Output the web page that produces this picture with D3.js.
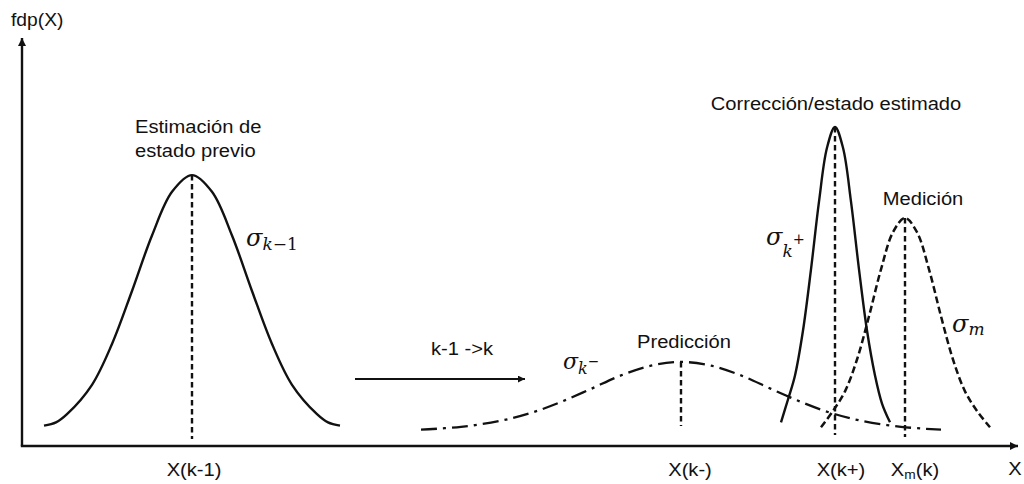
<!DOCTYPE html>
<html>
<head>
<meta charset="utf-8">
<script src="https://cdn.jsdelivr.net/npm/d3@7"></script>
<style>
  html, body { margin: 0; padding: 0; background: #fff; }
  svg { display: block; }
</style>
</head>
<body>
<svg id="chart" width="1024" height="484"></svg>
<script>
// ---------------- DATA ----------------
// x in abstract state units (0..996), y in fdp units (0..100)
const prevEstimate = [[22,5.0],[34,5.8],[45,7.8],[70,15.0],[90,25.0],[110,38.0],[130,51.6],[150,62.3],[170,66.4],[190,62.3],[210,51.6],[230,38.0],[250,25.0],[270,15.0],[295,7.8],[306,5.8],[318,5.0]];
const prediction   = [[399,4.0],[439,4.7],[479,6.2],[509,8.1],[539,10.8],[569,14.0],[599,17.3],[629,19.7],[659,20.6],[689,19.7],[719,17.3],[749,14.0],[779,10.8],[809,8.1],[839,6.2],[879,4.7],[919,4.0]];
const correction   = [[759,5.8],[766,11.4],[773,17.3],[781,28.3],[789,43.3],[797,59.9],[805,73.1],[813,78.2],[821,73.1],[829,59.9],[837,43.3],[845,28.3],[853,17.3],[860,10.4],[868,5.8]];
const measurement  = [[799,4.6],[811,8.6],[823,13.4],[835,21.2],[847,31.8],[859,43.3],[871,52.4],[883,55.9],[895,52.4],[907,43.3],[919,31.8],[931,21.2],[943,13.4],[955,8.6],[968,4.6]];

// vertical markers: x position, top (peak), bottom
const markerX      = [170, 659, 813, 883];
const markerTop    = [66.4, 20.6, 78.2, 55.9];
const markerBottom = [1.7, 4.9, 2.7, 2.2];

// tick labels under the x axis
const tickLabels   = ["X(k-1)", "X(k-)", "X(k+)", "X|m|(k)"];
const tickLabelX   = [172, 668, 819, 893];

const peakTitles   = ["Estimación de|estado previo", "Predicción", "Corrección/estado estimado", "Medición"];
const stepLabel    = "k-1 ->k";
const stepArrow    = [[333, 16.4], [503, 16.4]];
const axisLabels   = ["fdp(X)", "X"];

// ---------------- DRAWING ----------------
const svg = d3.select("#chart");
const x = d3.scaleLinear().domain([0, 996]).range([22, 1018]);
const y = d3.scaleLinear().domain([0, 100]).range([446, 38]);

const FONT = "'Liberation Sans', Arial, Helvetica, sans-serif";
const SERIF = "'DejaVu Serif', 'Liberation Serif', serif";
const SX = 1.1;
const INK = "#111";

const defs = svg.append("defs");
function marker(id, w, h) {
  defs.append("marker").attr("id", id)
    .attr("viewBox", "0 0 10 10").attr("refX", 10).attr("refY", 5)
    .attr("markerWidth", w).attr("markerHeight", h)
    .attr("markerUnits", "userSpaceOnUse").attr("orient", "auto")
    .append("path").attr("d", "M0,0 L10,5 L0,10 Z").attr("fill", INK);
}
marker("ah", 10, 8);
marker("ahs", 9, 7);

// axes
const axes = svg.append("g");
axes.append("line")
  .attr("x1", x(0)).attr("y1", y(0)).attr("x2", x(0)).attr("y2", y(100))
  .attr("stroke", INK).attr("stroke-width", 2.4).attr("marker-end", "url(#ah)");
axes.append("line")
  .attr("x1", x(0) - 1.2).attr("y1", y(0)).attr("x2", x(996)).attr("y2", y(0))
  .attr("stroke", INK).attr("stroke-width", 2.4).attr("marker-end", "url(#ah)");

function label(px, py, str, anchor, size) {
  const t = svg.append("text")
    .attr("transform", `translate(${px},${py}) scale(${SX},1)`)
    .attr("text-anchor", anchor || "middle")
    .attr("font-family", FONT).attr("font-size", size || 18.3)
    .attr("fill", INK);
  const parts = str.split("|");
  if (parts.length === 3) {
    t.append("tspan").text(parts[0]);
    t.append("tspan").attr("font-size", 12.5).attr("dy", 3).text(parts[1]);
    t.append("tspan").attr("dy", -3).text(parts[2]);
  } else {
    t.text(str);
  }
  return t;
}

// axis labels
label(11, 26, axisLabels[0], "start", 17.5);
label(1015, 475, axisLabels[1], "middle");

// curves
const line = d3.line().x(d => x(d[0])).y(d => y(d[1])).curve(d3.curveCatmullRom.alpha(0.5));
const curves = [
  { data: prevEstimate, dash: null, w: 2.4 },
  { data: prediction, dash: "16,6,3,6", w: 2.3 },
  { data: correction, dash: null, w: 2.4 },
  { data: measurement, dash: "7,3.5", w: 2.5 }
];
svg.append("g").selectAll("path").data(curves).join("path")
  .attr("d", d => line(d.data))
  .attr("fill", "none").attr("stroke", INK)
  .attr("stroke-width", d => d.w)
  .attr("stroke-dasharray", d => d.dash);

// vertical dashed markers
svg.append("g").selectAll("line").data(markerX).join("line")
  .attr("x1", d => x(d)).attr("x2", d => x(d))
  .attr("y1", (d, i) => y(markerTop[i])).attr("y2", (d, i) => y(markerBottom[i]))
  .attr("stroke", INK).attr("stroke-width", 2.4).attr("stroke-dasharray", "5.5,3.5");

// tick labels
tickLabels.forEach((t, i) => label(x(tickLabelX[i]), 476, t, "middle"));

// peak titles
const t0 = peakTitles[0].split("|");
label(135, 133, t0[0], "start");
label(135, 156.5, t0[1], "start");
label(684, 348, peakTitles[1], "middle");
label(836, 110, peakTitles[2], "middle");
label(923, 205, peakTitles[3], "middle");

// step arrow
svg.append("line")
  .attr("x1", x(stepArrow[0][0])).attr("y1", y(stepArrow[0][1]))
  .attr("x2", x(stepArrow[1][0])).attr("y2", y(stepArrow[1][1]))
  .attr("stroke", INK).attr("stroke-width", 2).attr("marker-end", "url(#ahs)");
label(462, 355, stepLabel, "middle");

// sigma labels
function sigma(px, py, sub, sup, subDy, opts) {
  const t = svg.append("text")
    .attr("transform", `translate(${px},${py})`)
    .attr("font-family", SERIF).attr("font-style", "italic")
    .attr("font-size", opts.size).attr("fill", INK);
  t.append("tspan").text("σ");
  const parts = sub.split("|");
  t.append("tspan").attr("font-size", opts.sub).attr("dy", subDy).text(parts[0]);
  if (parts[1]) t.append("tspan").attr("font-size", opts.sub).attr("font-style", "normal").text(parts[1]);
  if (sup) t.append("tspan").attr("font-size", opts.sub * 0.85).attr("font-style", "normal")
    .attr("dy", opts.supDy).text(sup);
}
sigma(246, 246, "k|−1", null, 4, { size: 24, sub: 17 });
sigma(563, 369, "k", "−", 5, { size: 22, sub: 16, supDy: -8 });
sigma(766, 245, "k", "+", 12, { size: 24, sub: 17, supDy: -13 });
sigma(952, 332, "m", null, 3, { size: 24, sub: 17 });
</script>
</body>
</html>
